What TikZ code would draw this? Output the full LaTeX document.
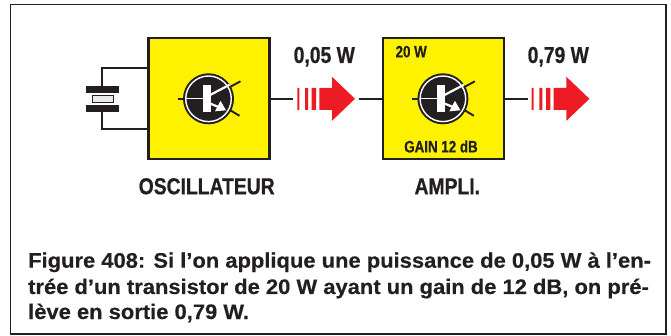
\documentclass[tikz,border=0pt]{standalone}
\usepackage{fontspec}
\setmainfont{Liberation Sans}
\newfontfamily\headf[FakeStretch=0.84,FakeBold=0.7]{Liberation Sans}
\newfontfamily\smallf[FakeStretch=0.81,FakeBold=0.5]{Liberation Sans}
\newfontfamily\capf[FakeStretch=1.045,FakeBold=0.4]{Liberation Sans}
\definecolor{ink}{HTML}{231F20}
\definecolor{boxy}{HTML}{FFF200}
\definecolor{arrowred}{HTML}{ED1C24}
\tikzset{
  blockbox/.style={draw=ink,line width=2.4pt,fill=boxy,minimum width=121pt,minimum height=121pt,inner sep=0pt},
  wire/.style={draw=ink,line width=1.9pt},
  biglabel/.style={font=\headf\bfseries\fontsize{23}{24}\selectfont,text=ink,inner sep=0pt},
  smalllabel/.style={font=\smallf\bfseries\fontsize{16.5}{17}\selectfont,text=ink,inner sep=0pt},
  captext/.style={font=\capf\bfseries\fontsize{21}{26}\selectfont,text=ink,inner sep=0pt,anchor=base west},
  pics/transistor/.style={code={
    \draw[ink,line width=1.9pt] (-31,0)--(-20,0);
    \draw[ink,line width=1.9pt] (20,-11)--(32,-17.5);
    \draw[ink,line width=1.9pt] (21,11)--(31,17);
    \fill[ink] (0,0) circle (25.5);
    \draw[white,line width=1.4pt] (0,0) circle (22.8);
    \draw[white,line width=1.2pt] (-23,0)--(-5,0);
    \fill[white] (-6,-13.3) rectangle (2,13.3);
    \draw[white,line width=2.2pt] (1,-3.5)--(21,-14);
    \draw[white,line width=2.2pt] (1,4.5)--(12,9);
    \fill[white] (17.5,11.5)--(6.5,12.5)--(12,2)--cycle;
  }},
  pics/powerarrow/.style={code={
    \fill[arrowred] (0,-11)rectangle(2,11) (7.7,-11)rectangle(10.7,11) (14.4,-11)rectangle(18.7,11);
    \fill[arrowred] (22,-11)--(34.7,-11)--(34.7,-22)--(57.7,0)--(34.7,22)--(34.7,11)--(22,11)--cycle;
  }}
}
\begin{document}
\begin{tikzpicture}[x=1pt,y=-1pt]
\useasboundingbox (0,0) rectangle (671,336);
\fill[white] (0,0) rectangle (671,336);
\draw[ink,line width=1.8pt] (10.5,4.5) rectangle (666,334);
\coordinate (xtop) at (102.3,68.3);
\coordinate (xbot) at (102.3,128.7);
\node[blockbox] (osc) at (208.8,98.8) {};
\node[blockbox] (amp) at (443.2,98.8) {};
\draw[wire] (osc.west |- xtop) -- (xtop) -- (102.3,86);
\draw[wire] (osc.west |- xbot) -- (xbot) -- (102.3,105);
\fill[ink] (86,86) rectangle (119,92.7);
\fill[ink] (86,105) rectangle (119,111.7);
\draw[ink,fill=black!8,line width=0.8pt] (92.5,95.5) rectangle (113,102);
\pic at (208.5,98.8) {transistor};
\pic at (442.9,98.8) {transistor};
\coordinate (a1) at (292.7,98.8);
\coordinate (a2) at (359,98.8);
\coordinate (a3) at (527.5,98.8);
\draw[wire] (osc.east) -- (a1);
\draw[wire] (a2) -- (amp.west);
\draw[wire] (amp.east) -- (a3);
\pic at (297.3,98.8) {powerarrow};
\pic at (531.7,98.8) {powerarrow};
\node[biglabel] (l1) at (324.3,56.7) {0,05 W};
\node[biglabel] (l2) at (558.3,56.7) {0,79 W};
\node[biglabel] (l3) at (206.7,186.3) {OSCILLATEUR};
\node[biglabel] (l4) at (447.3,186.3) {AMPLI.};
\node[smalllabel] (l5) at (411.2,51.7) {20 W};
\node[smalllabel] (l6) at (441,146.5) {GAIN 12 dB};
\node[captext] (c1) at (28,267.7) {Figure 408: Si l’on applique une puissance de 0,05 W à l’en-};
\node[captext] (c2) at (28,294) {trée d’un transistor de 20 W ayant un gain de 12 dB, on pré-};
\node[captext] (c3) at (28,319) {lève en sortie 0,79 W.};
\end{tikzpicture}
\end{document}
